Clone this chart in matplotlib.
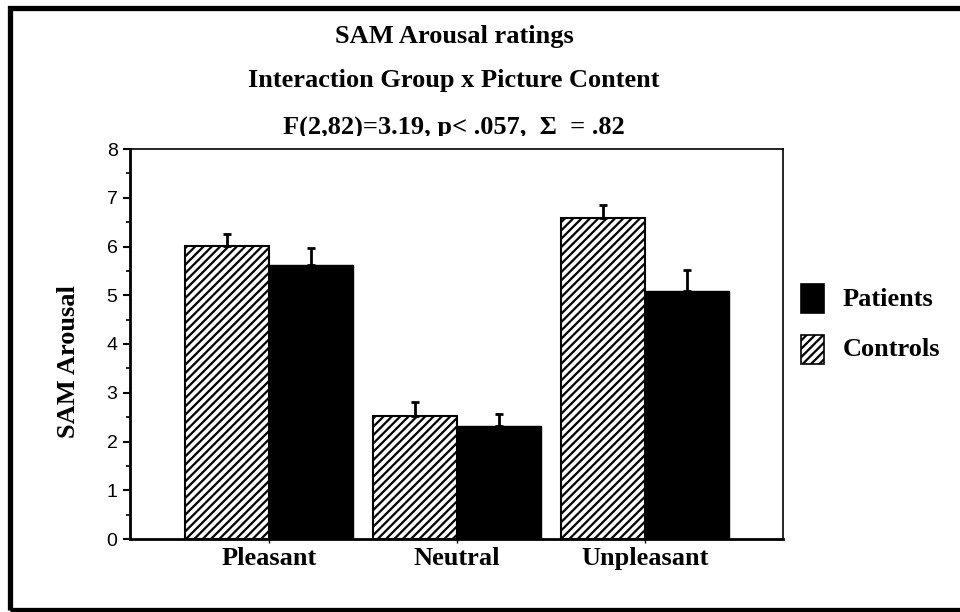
import matplotlib
matplotlib.use("Agg")
import matplotlib.pyplot as plt
import numpy as np
from matplotlib.patches import Rectangle
from matplotlib.ticker import MultipleLocator

# Data
categories = ["Pleasant", "Neutral", "Unpleasant"]
controls_mean = [6.01, 2.53, 6.58]
controls_err = [0.25, 0.28, 0.28]
patients_mean = [5.62, 2.31, 5.09]
patients_err = [0.34, 0.26, 0.43]
series_labels = ["Patients", "Controls"]

title_lines = ["SAM Arousal ratings",
               "Interaction Group x Picture Content",
               "F(2,82)=3.19, p< .057,  \u03a3  = .82"]
ylabel = "SAM Arousal"

SERIF = "Liberation Serif"
SANS = "Liberation Sans"
W, H = 960, 612
HATCH = "////"

plt.rcParams["hatch.linewidth"] = 1.6

fig = plt.figure(figsize=(W / 100, H / 100), dpi=100)
ax = fig.add_axes([130 / W, 1 - 539 / H, (783 - 130) / W, (539 - 149) / H])

x = np.arange(len(categories))
bw = 0.447
ax.bar(x - bw / 2, controls_mean, bw, color="white", edgecolor="black",
       hatch=HATCH, linewidth=1.5, zorder=2)
ax.bar(x + bw / 2, patients_mean, bw, color="black", edgecolor="black",
       linewidth=1.0, zorder=2)
ax.errorbar(x - bw / 2, controls_mean, yerr=[np.zeros(3), controls_err],
            fmt="none", ecolor="black", elinewidth=2, capsize=3, capthick=2, zorder=3)
ax.errorbar(x + bw / 2, patients_mean, yerr=[np.zeros(3), patients_err],
            fmt="none", ecolor="black", elinewidth=2, capsize=3, capthick=2, zorder=3)

ax.set_xlim(-0.739, 2.734)
ax.set_ylim(0, 8)
ax.set_xticks(x)
ax.set_xticklabels(categories, fontfamily=SERIF, fontweight="bold", fontsize=19)
ax.yaxis.set_major_locator(MultipleLocator(1))
ax.yaxis.set_minor_locator(MultipleLocator(0.5))
for lab in ax.get_yticklabels():
    lab.set_fontfamily(SANS)
    lab.set_fontsize(14)
ax.tick_params(axis="y", which="major", direction="out", length=5, width=1.5, pad=4)
ax.tick_params(axis="y", which="minor", direction="out", length=3, width=1.2)
ax.tick_params(axis="x", which="major", direction="out", length=3, width=1.0, pad=3)

ax.spines["left"].set_linewidth(2)
ax.spines["bottom"].set_linewidth(2)
ax.spines["top"].set_linewidth(1.2)
ax.spines["right"].set_linewidth(1.2)

ax.set_ylabel(ylabel, fontfamily=SERIF, fontweight="bold", fontsize=19)
ax.yaxis.set_label_coords(-0.0765, 0.455)

# Titles
title_y = [36, 80, 128]
for line, yy in zip(title_lines, title_y):
    fig.text(454 / W, 1 - yy / H, line, ha="center", va="center",
             fontfamily=SERIF, fontweight="bold", fontsize=19, zorder=3)

# White band trimming the lower edge of the statistics line
band = Rectangle((240 / W, 1 - 147 / H), 440 / W, 10.5 / H,
                 transform=fig.transFigure, facecolor="white",
                 edgecolor="none", zorder=5)
fig.patches.append(band)

# Legend boxes
leg_items = [(series_labels[0], dict(facecolor="black", edgecolor="black"), 284),
             (series_labels[1], dict(facecolor="white", edgecolor="black", hatch=HATCH), 335)]
for label, style, top in leg_items:
    r = Rectangle((801 / W, 1 - (top + 29) / H), 23 / W, 29 / H,
                  transform=fig.transFigure, linewidth=1.2, **style)
    fig.patches.append(r)
    fig.text(843 / W, 1 - (top + 15) / H, label, ha="left", va="center",
             fontfamily=SERIF, fontweight="bold", fontsize=19)

# Outer frame
frame = Rectangle((10 / W, 1 - 610 / H), 1.2, (610 - 8) / H,
                  transform=fig.transFigure, fill=False, edgecolor="black",
                  linewidth=3.8, clip_on=True)
fig.patches.append(frame)

fig.savefig("out.png", dpi=100)
